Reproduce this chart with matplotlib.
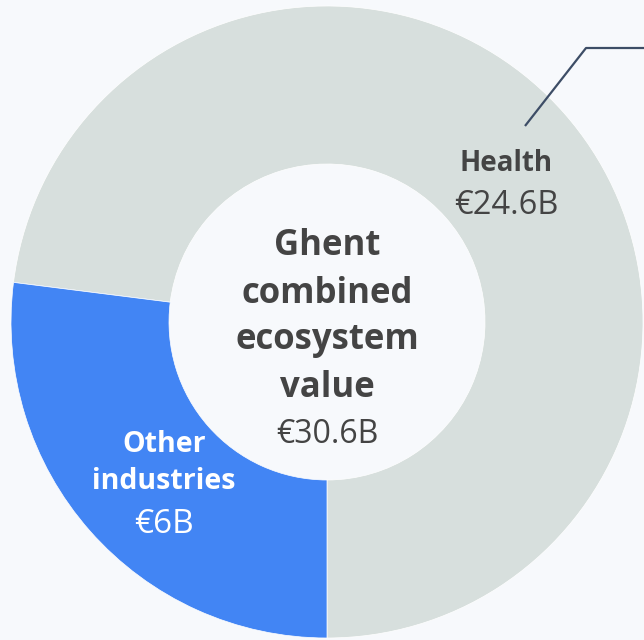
import matplotlib.pyplot as plt

# segments of the ring, shares as drawn in the picture
segments = ["Health", "Other industries"]
ring_share = [73, 27]
value_labels = ["€24.6B", "€6B"]
total_label = "€30.6B"
center_title = ["Ghent", "combined", "ecosystem", "value"]

bg = "#f7f9fc"
colors = ["#d7dfdd", "#4285f4"]
dark = "#444444"

plt.rcParams['font.family'] = ['Open Sans', 'DejaVu Sans']

fig = plt.figure(figsize=(6.44, 6.40), dpi=100, facecolor=bg)
ax = fig.add_axes([0, 0, 1, 1])
ax.set_facecolor(bg)

cx, cy, R = 327, 640 - 322, 316
ax.pie(ring_share, colors=colors, startangle=-90, counterclock=True,
       center=(cx, cy), radius=R, frame=True,
       wedgeprops=dict(width=R * 0.5, edgecolor='white', linewidth=0.5))
ax.set_xlim(0, 644)
ax.set_ylim(0, 640)
ax.set_aspect('equal')
ax.axis('off')

def y(px):
    return 640 - px

# leader line for Health
ax.plot([525, 586, 650], [y(126), y(48), y(48)], color="#3d4d66", lw=1.6,
        solid_capstyle='butt')

# Health label
ax.text(506, y(171), segments[0], ha='center', va='baseline', fontsize=20,
        fontweight='bold', color=dark)
ax.text(506, y(214), value_labels[0], ha='center', va='baseline', fontsize=23.5,
        color=dark)

# Other industries label
ax.text(164, y(452), "Other", ha='center', va='baseline', fontsize=20.5,
        fontweight='bold', color='white')
ax.text(164, y(489), "industries", ha='center', va='baseline', fontsize=20.5,
        fontweight='bold', color='white')
ax.text(164, y(533), value_labels[1], ha='center', va='baseline', fontsize=24,
        color='white')

# centre
bases = [255, 303, 349, 397]
for line, b in zip(center_title, bases):
    ax.text(cx, y(b), line, ha='center', va='baseline', fontsize=25,
            fontweight='bold', color=dark)
ax.text(cx, y(443), total_label, ha='center', va='baseline', fontsize=23,
        color=dark)

fig.savefig("out.png", dpi=100, facecolor=bg)
